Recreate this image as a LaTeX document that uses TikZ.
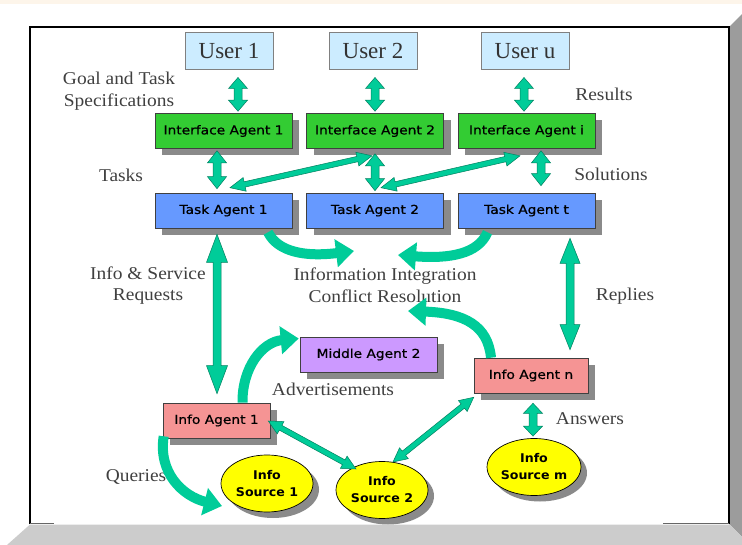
\documentclass[tikz,border=0pt]{standalone}
\usepackage{fontspec}
\setmainfont{Liberation Serif}
\newfontfamily\lblfont[FakeStretch=1.08]{Liberation Serif}
\newfontfamily\boxfont[FakeStretch=1.12,FakeBold=0.6]{DejaVu Sans}
\newfontfamily\srcfont[FakeStretch=1.05]{DejaVu Sans Bold}
\usetikzlibrary{calc,shadows,arrows.meta,shapes.geometric}
\definecolor{userfill}{HTML}{CCECFF}
\definecolor{iafill}{HTML}{33CC33}
\definecolor{tafill}{HTML}{6699FF}
\definecolor{infofill}{HTML}{F59494}
\definecolor{midfill}{HTML}{CC99FF}
\definecolor{srcfill}{HTML}{FFFF00}
\definecolor{arrfill}{HTML}{00CC99}
\definecolor{arredge}{HTML}{00805F}
\definecolor{shadowgray}{HTML}{8A8A8A}
\definecolor{labelgray}{HTML}{404040}
\definecolor{bandlight}{HTML}{CCCCCC}
\definecolor{banddark}{HTML}{9C9C9C}
\definecolor{topcream}{HTML}{FDF5EA}
\tikzset{
  userbox/.style={draw=gray, line width=1pt, fill=userfill, minimum width=88pt,
    minimum height=37pt, inner sep=0pt, font=\fontsize{23}{26}\selectfont, text=black!80},
  agentbox/.style={draw=black!75, line width=0.6pt, minimum width=137pt, minimum height=35pt,
    inner sep=0pt, font=\boxfont\fontsize{12.3}{14}\selectfont,
    drop shadow={shadow xshift=7pt, shadow yshift=-7pt, fill=shadowgray, opacity=1}},
  srcnode/.style={ellipse, draw=black, line width=0.7pt, fill=srcfill, minimum width=92pt,
    minimum height=57pt, inner sep=0pt, align=center,
    font=\srcfont\fontsize{12}{17}\selectfont,
    drop shadow={shadow xshift=6pt, shadow yshift=-6pt, fill=shadowgray, opacity=1}},
  lbl/.style={inner sep=0pt, align=center, text=labelgray, font=\lblfont\fontsize{18}{21.5}\selectfont},
  blockarrow/.style={fill=arrfill, draw=arredge, line width=0.5pt, line join=miter},
  curvearrow/.style={draw=arrfill, line width=10pt, -{Triangle[width=27pt,length=18pt]}},
}
% double-headed block arrow: start, end, head length, head half width, shaft half width
\newcommand\dbarrow[5]{%
  \coordinate (dA) at (#1);
  \coordinate (dB) at (#2);
  \coordinate (dA1) at ($(dA)!#3!(dB)$);
  \coordinate (dB1) at ($(dB)!#3!(dA)$);
  \filldraw[blockarrow] (dA) -- ($(dA1)!#4!90:(dB)$) -- ($(dA1)!#5!90:(dB)$)
    -- ($(dB1)!#5!-90:(dA)$) -- ($(dB1)!#4!-90:(dA)$) -- (dB)
    -- ($(dB1)!#4!90:(dA)$) -- ($(dB1)!#5!90:(dA)$)
    -- ($(dA1)!#5!-90:(dB)$) -- ($(dA1)!#4!-90:(dB)$) -- cycle;
}
\begin{document}
\begin{tikzpicture}[x=1pt,y=-1pt]
\useasboundingbox (0,0) rectangle (742,545);
% frame
\fill[white] (0,0) rectangle (742,545);
\fill[topcream] (0,0) rectangle (742,4);
\fill[banddark] (729,27) -- (742,14) -- (742,537) -- (729,524) -- cycle;
\fill[bandlight] (30,524.5) -- (729,524.5) -- (742,537.5) -- (742,545) -- (7,545) -- cycle;
\draw[line width=1.2pt] (30,524) -- (30,27) -- (729,27) -- (729,524);
\draw[line width=1.2pt, black!60] (30,523.5) -- (54,523.5) (663,523.5) -- (729,523.5);

% users
\node[userbox] (u1) at (229,51.5) {User 1};
\node[userbox] (u2) at (373,51.5) {User 2};
\node[userbox] (uu) at (525,51.5) {User u};

% interface agents
\node[agentbox, fill=iafill] (ia1) at (223.5,131) {Interface Agent 1};
\node[agentbox, fill=iafill] (ia2) at (375,131) {Interface Agent 2};
\node[agentbox, fill=iafill] (iai) at (526.5,131) {Interface Agent i};

% task agents
\node[agentbox, fill=tafill] (ta1) at (223.5,210.5) {Task Agent 1};
\node[agentbox, fill=tafill] (ta2) at (375,210.5) {Task Agent 2};
\node[agentbox, fill=tafill] (tat) at (526.5,210.5) {Task Agent t};

% info / middle agents
\node[agentbox, fill=infofill, minimum width=107pt] (inf1) at (216.5,420.5) {Info Agent 1};
\node[agentbox, fill=midfill] (mid2) at (368.5,354.5) {Middle Agent 2};
\node[agentbox, fill=infofill, minimum width=114pt] (infn) at (531,375.5) {Info Agent n};

% info sources
\node[srcnode] (src1) at (267,483.5) {Info\\Source 1};
\node[srcnode] (src2) at (382,490) {Info\\Source 2};
\node[srcnode] (srcm) at (534,467) {Info\\Source m};

% labels
\node[lbl] (goal) at (119,91) {Goal and Task\\Specifications};
\node[lbl] (tasks) at (121,175) {Tasks};
\node[lbl] (results) at (604,94) {Results};
\node[lbl] (solutions) at (611,174) {Solutions};
\node[lbl] (requests) at (148,285.5) {Info \& Service\\Requests};
\node[lbl] (integ) at (385,285.5) {Information Integration\\Conflict Resolution};
\node[lbl] (replies) at (625,296) {Replies};
\node[lbl] (advert) at (333,389) {Advertisements};
\node[lbl] (answers) at (590,419) {Answers};
\node[lbl] (queries) at (136,477) {Queries};

% straight double arrows
\dbarrow{$(u1.south)+(9,7)$}{$(ia1.north)+(14.5,-2)$}{11pt}{9.5pt}{4pt}
\dbarrow{$(u2.south)+(2,7)$}{$(ia2.north)+(0,-2)$}{11pt}{9.5pt}{4pt}
\dbarrow{$(uu.south)+(-1,7)$}{$(iai.north)+(-2.5,-2)$}{11pt}{9.5pt}{4pt}
\dbarrow{$(ia1.south)+(-6.5,2)$}{$(ta1.north)+(-6.5,-4)$}{12pt}{9.5pt}{4pt}
\dbarrow{$(ia2.south)+(0,5)$}{$(ta2.north)+(0,-2)$}{12pt}{9.5pt}{4pt}
\dbarrow{$(iai.south)+(14.5,2)$}{$(tat.north)+(14.5,-7)$}{12pt}{9.5pt}{4pt}
\dbarrow{$(ia2.south)+(-3,7)$}{$(ta1.north)+(6.5,-5)$}{15pt}{7pt}{2.7pt}
\dbarrow{$(iai.south)+(-6.5,7)$}{$(ta2.north)+(6,-5)$}{15pt}{7pt}{2.7pt}
\dbarrow{$(ta1.south)+(-6.5,6)$}{$(inf1.north)+(0.5,-9)$}{28pt}{10.5pt}{4pt}
\dbarrow{$(tat.south)+(43.5,10)$}{$(infn.north)+(39,-8)$}{25pt}{10pt}{4pt}
\dbarrow{$(inf1.east)+(-2,0.5)$}{$(src2.center)+(-26,-21)$}{14pt}{7pt}{2.7pt}
\dbarrow{$(infn.south west)+(0,4)$}{$(src2.center)+(11,-28)$}{14pt}{7pt}{2.7pt}
\dbarrow{$(infn.south)+(2,10)$}{$(srcm.north)+(-1,-2)$}{10pt}{9.5pt}{4pt}

% curved arrows
\draw[curvearrow] ($(ta1.south)+(44.5,4)$) .. controls (278,252) and (305,257) .. ($(integ.center)+(-31,-34.5)$);
\draw[curvearrow] ($(tat.south)+(-39,4)$) .. controls (478,254) and (450,259) .. ($(integ.center)+(13,-30.5)$);
\draw[curvearrow] ($(infn.north)+(-40,0)$) .. controls (488,326) and (465,313) .. ($(integ.center)+(23,25.5)$);
\draw[curvearrow] ($(inf1.north)+(26,0)$) .. controls (242,368) and (262,342) .. ($(mid2.west)+(-1,-16)$);
\draw[curvearrow] ($(inf1.south west)+(1,-2)$) .. controls (158,472) and (182,496) .. ($(src1.center)+(-45,22.5)$);
\end{tikzpicture}
\end{document}
